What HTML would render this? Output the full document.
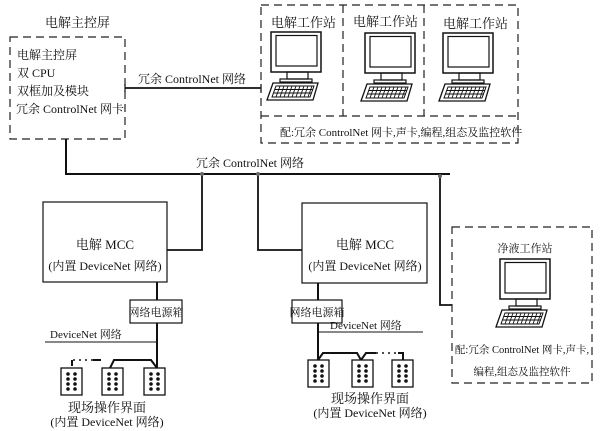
<!DOCTYPE html>
<html><head><meta charset="utf-8"><style>
html,body{margin:0;padding:0;background:#fff;}
svg{display:block;}
text{font-family:"Liberation Serif","Noto Serif CJK SC","Noto Sans CJK SC",serif;fill:#111;}
</style></head><body>
<svg width="603" height="431" viewBox="0 0 603 431" xmlns="http://www.w3.org/2000/svg">
<defs>
<g id="mon" fill="none" stroke="#111">
<rect x="0" y="0" width="50" height="40" stroke-width="1.5" fill="#fff"/>
<rect x="5" y="3.5" width="41" height="30.5" stroke-width="1.2"/>
<rect x="16" y="40" width="21" height="7" stroke-width="1.2"/>
<rect x="9" y="47" width="32" height="3" stroke-width="1.2"/>
<polygon points="2,51 47,51 42,68 -4,68" stroke-width="1.3" fill="#fff"/>
<polygon points="5,54 43,54 39,65 1,65" stroke-width="1"/>
<line x1="4" y1="57.5" x2="42" y2="57.5" stroke-width="0.9"/>
<line x1="2.8" y1="61" x2="41" y2="61" stroke-width="0.9"/>
<path d="M9,54 L5,65 M13,54 L9,65 M17,54 L13,65 M21,54 L17,65 M25,54 L21,65 M29,54 L25,65 M33,54 L29,65 M37,54 L33,65 M41,54 L37,65" stroke-width="0.9"/>
</g>
<g id="dev" stroke="#111" fill="#111">
<rect x="0" y="0" width="21" height="27" fill="#fff" stroke-width="1.3"/>
<circle cx="7" cy="6" r="1.3"/><circle cx="14" cy="6" r="1.3"/>
<circle cx="7" cy="11" r="1.3"/><circle cx="14" cy="11" r="1.3"/>
<circle cx="7" cy="16" r="1.3"/><circle cx="14" cy="16" r="1.3"/>
<circle cx="7" cy="21" r="1.3"/><circle cx="14" cy="21" r="1.3"/>
</g>
</defs>

<text x="45" y="27" font-size="13">电解主控屏</text>
<rect x="10" y="37" width="115" height="102" fill="none" stroke="#222" stroke-width="1.2" stroke-dasharray="8,5"/>
<text x="17" y="59" font-size="12">电解主控屏</text>
<text x="17" y="77" font-size="12">双 CPU</text>
<text x="17" y="95" font-size="12">双框加及模块</text>
<text x="16" y="113" font-size="12">冗余 ControlNet 网卡</text>

<line x1="125" y1="88" x2="261" y2="88" stroke="#111" stroke-width="1.8"/>
<line x1="125" y1="84" x2="125" y2="92" stroke="#111" stroke-width="1.2"/>
<line x1="261" y1="84" x2="261" y2="92" stroke="#111" stroke-width="1.2"/>
<text x="138" y="83" font-size="12">冗余 ControlNet 网络</text>

<rect x="261" y="5" width="257" height="138" fill="none" stroke="#222" stroke-width="1.2" stroke-dasharray="8,5"/>
<line x1="343" y1="5" x2="343" y2="116" stroke="#222" stroke-width="1.2" stroke-dasharray="8,5"/>
<line x1="424" y1="5" x2="424" y2="116" stroke="#222" stroke-width="1.2" stroke-dasharray="8,5"/>
<line x1="261" y1="116" x2="518" y2="116" stroke="#222" stroke-width="1.2" stroke-dasharray="8,5"/>
<text x="271" y="27" font-size="13">电解工作站</text>
<text x="353" y="26" font-size="13">电解工作站</text>
<text x="443" y="28" font-size="13">电解工作站</text>
<use href="#mon" x="271" y="32"/>
<use href="#mon" x="365" y="33"/>
<use href="#mon" x="443" y="33"/>
<text x="280" y="136" font-size="11">配:冗余 ControlNet 网卡,声卡,编程,组态及监控软件</text>

<path d="M66,139 L66,174 L450,174" fill="none" stroke="#111" stroke-width="2"/>
<text x="196" y="167" font-size="12">冗余 ControlNet 网络</text>
<path d="M202,174 L202,250 L167,250" fill="none" stroke="#111" stroke-width="1.8"/>
<path d="M258,174 L258,250 L302,250" fill="none" stroke="#111" stroke-width="1.8"/>
<path d="M440,176 L440,305 L452,305" fill="none" stroke="#111" stroke-width="1.8"/>
<circle cx="202" cy="174" r="2" fill="#666"/><circle cx="258" cy="174" r="2" fill="#666"/><circle cx="440" cy="176" r="2" fill="#666"/>

<rect x="43" y="202" width="124" height="80" fill="#fff" stroke="#111" stroke-width="1.2"/>
<text x="105" y="249" font-size="13" text-anchor="middle">电解 MCC</text>
<text x="105" y="270" font-size="12" text-anchor="middle">(内置 DeviceNet 网络)</text>
<rect x="302" y="203" width="125" height="80" fill="#fff" stroke="#111" stroke-width="1.2"/>
<text x="365" y="249" font-size="13" text-anchor="middle">电解 MCC</text>
<text x="365" y="270" font-size="12" text-anchor="middle">(内置 DeviceNet 网络)</text>

<line x1="157" y1="282" x2="157" y2="368" stroke="#111" stroke-width="2"/>
<rect x="130" y="300" width="52" height="23" fill="#fff" stroke="#111" stroke-width="1.2"/>
<text x="156" y="316" font-size="11" text-anchor="middle">网络电源箱</text>
<line x1="318" y1="283" x2="318" y2="360" stroke="#111" stroke-width="2"/>
<rect x="292" y="300" width="50" height="23" fill="#fff" stroke="#111" stroke-width="1.2"/>
<text x="317" y="316" font-size="11" text-anchor="middle">网络电源箱</text>

<text x="50" y="338" font-size="11">DeviceNet 网络</text>
<line x1="45" y1="342" x2="157" y2="342" stroke="#111" stroke-width="1"/>
<text x="330" y="329" font-size="11">DeviceNet 网络</text>
<line x1="318" y1="332" x2="423" y2="332" stroke="#111" stroke-width="1"/>

<path d="M157,368 L151,360 L114,360 L110,368 M101,360 L93,360" fill="none" stroke="#111" stroke-width="2"/>
<path d="M93,360 L72,360" fill="none" stroke="#111" stroke-width="1.6" stroke-dasharray="2,4"/>
<path d="M72,360 L72,366" fill="none" stroke="#111" stroke-width="2"/>
<path d="M318,360 L323,353 L357,353 L361,360 M361,360 L366,353 L376,353" fill="none" stroke="#111" stroke-width="2"/>
<path d="M376,353 L398,353" fill="none" stroke="#111" stroke-width="1.6" stroke-dasharray="2,4"/>
<path d="M398,353 L403,353 L403,360" fill="none" stroke="#111" stroke-width="2"/>

<use href="#dev" x="61" y="368"/>
<use href="#dev" x="102" y="368"/>
<use href="#dev" x="144" y="368"/>
<use href="#dev" x="308" y="360"/>
<use href="#dev" x="352" y="360"/>
<use href="#dev" x="392" y="360"/>

<text x="107" y="412" font-size="13" text-anchor="middle">现场操作界面</text>
<text x="107" y="426" font-size="12" text-anchor="middle">(内置 DeviceNet 网络)</text>
<text x="370" y="403" font-size="13" text-anchor="middle">现场操作界面</text>
<text x="370" y="417" font-size="12" text-anchor="middle">(内置 DeviceNet 网络)</text>

<rect x="452" y="227" width="140" height="156" fill="none" stroke="#222" stroke-width="1.2" stroke-dasharray="8,5"/>
<text x="525" y="252" font-size="11" text-anchor="middle">净液工作站</text>
<use href="#mon" x="500" y="259"/>
<text x="522" y="353" font-size="10.5" text-anchor="middle">配:冗余 ControlNet 网卡,声卡,</text>
<text x="522" y="375" font-size="10.5" text-anchor="middle">编程,组态及监控软件</text>
</svg>
</body></html>
